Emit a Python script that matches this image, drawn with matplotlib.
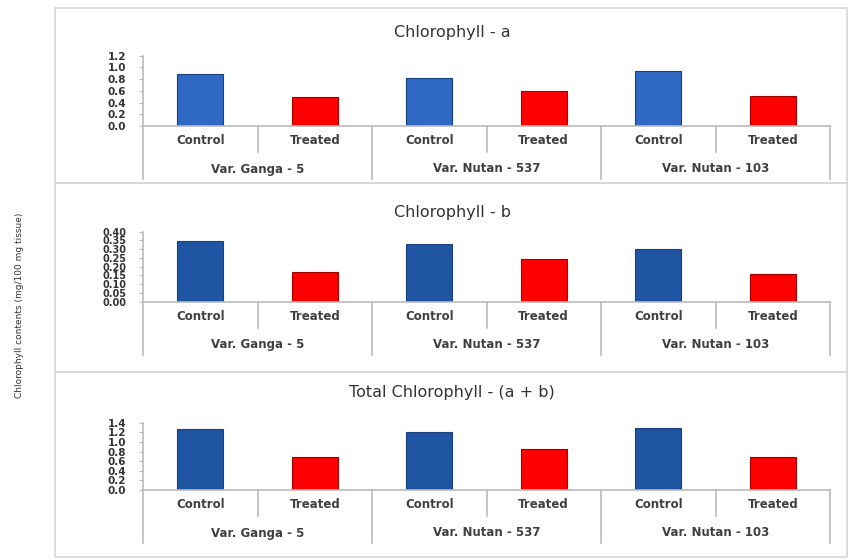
import matplotlib.pyplot as plt
from matplotlib.patches import Rectangle
import numpy as np

varieties = ['Var. Ganga - 5', 'Var. Nutan - 537', 'Var. Nutan - 103']
treatments = ['Control', 'Treated']

chl_a = [0.88, 0.49, 0.82, 0.60, 0.94, 0.51]
chl_b = [0.349, 0.171, 0.330, 0.242, 0.303, 0.158]
chl_total = [1.27, 0.68, 1.20, 0.85, 1.30, 0.69]

titles = ['Chlorophyll - a', 'Chlorophyll - b', 'Total Chlorophyll - (a + b)']
yticks_a = [0.0, 0.2, 0.4, 0.6, 0.8, 1.0, 1.2]
yticks_b = [0.00, 0.05, 0.10, 0.15, 0.20, 0.25, 0.30, 0.35, 0.40]
yticks_t = [0.0, 0.2, 0.4, 0.6, 0.8, 1.0, 1.2, 1.4]
ylabel = 'Chlorophyll contents (mg/100 mg tissue)'

W, H = 848, 560
fig = plt.figure(figsize=(W / 100, H / 100), dpi=100)

def fx(px):
    return px / W

def fy(py):
    return 1 - py / H

# pixel layout per panel: box top, box bottom, baseline, axis top, title y
panels = [
    (8, 183, 126, 55.7, 33, chl_a, yticks_a, '%.1f', '#2f69c4', 7.5),
    (183, 372, 301.7, 231.7, 212, chl_b, yticks_b, '%.2f', '#1f55a3', 7),
    (372, 557, 490, 422.7, 392, chl_total, yticks_t, '%.1f', '#1f55a3', 7.5),
]

x0, x1 = 143, 830
x = np.arange(6)
grey = '#bbbbbb'

for (top, bot, base, atop, ty, vals, yt, fmt, blue, tfs), title in zip(panels, titles):
    # chart box
    fig.patches.append(Rectangle((fx(55), fy(bot)), fx(847) - fx(55), fy(top) - fy(bot),
                                 transform=fig.transFigure, fill=False,
                                 edgecolor='#d6d6d6', linewidth=1.2))
    fig.text(fx(452), fy(ty), title, ha='center', va='center', fontsize=11.5, color='#333333')

    ax = fig.add_axes([fx(x0), fy(base), fx(x1) - fx(x0), fy(atop) - fy(base)])
    colors = [blue if i % 2 == 0 else '#ff0000' for i in range(6)]
    edges = ['#1a3f80' if i % 2 == 0 else '#a00000' for i in range(6)]
    ax.bar(x, vals, width=0.4, color=colors, edgecolor=edges, linewidth=0.8)
    ax.set_xlim(-0.5, 5.5)
    ax.set_ylim(yt[0], yt[-1])
    ax.set_yticks(yt)
    ax.set_yticklabels([fmt % v for v in yt], fontsize=tfs, fontweight='bold', color='#333333')
    ax.tick_params(axis='y', length=3, width=0.8, color=grey, pad=9)
    ax.set_xticks([])
    for s in ['top', 'right']:
        ax.spines[s].set_visible(False)
    for s in ['left', 'bottom']:
        ax.spines[s].set_color(grey)
        ax.spines[s].set_linewidth(1.2)

    # category rows below the axis
    tr = ax.get_xaxis_transform()
    ax_h = fy(atop) - fy(base)

    def ay(py):
        return (fy(py) - fy(base)) / ax_h

    for i in range(6):
        ax.text(x[i], ay(base + 15), treatments[i % 2], transform=tr, ha='center', va='center',
                fontsize=8.5, fontweight='bold', color='#404040')
    for g in range(3):
        ax.text(2 * g + 0.5, ay(base + 43), varieties[g], transform=tr, ha='center', va='center',
                fontsize=8.5, fontweight='bold', color='#404040')
        ax.plot([2 * g + 0.5, 2 * g + 0.5], [0, ay(base + 26)], transform=tr, color=grey,
                linewidth=1.2, clip_on=False)
    for b in [-0.5, 1.5, 3.5, 5.5]:
        ax.plot([b, b], [0, ay(base + 53)], transform=tr, color=grey, linewidth=1.2, clip_on=False)

fig.text(fx(20), fy(305), ylabel, rotation=90, ha='center', va='center', fontsize=6.5, color='#333333')

fig.savefig('out.png', dpi=100)
